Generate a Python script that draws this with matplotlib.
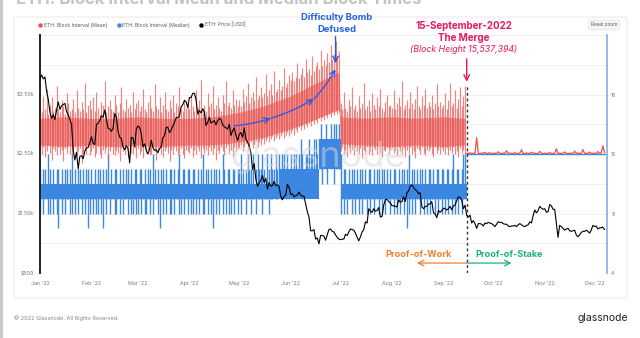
import pandas as pd
import matplotlib
matplotlib.use("Agg")
import matplotlib.pyplot as plt
import matplotlib.dates as mdates
from matplotlib.lines import Line2D
from matplotlib.patches import FancyBboxPatch, Rectangle

plt.rcParams["font.family"] = ["Inter", "DejaVu Sans"]

START = "2022-01-01"
MERGE = "2022-09-15"

# daily ETH price, Jan 1 - Dec 7 2022
price_usd = [
    # Jan
    3769, 3829, 3762, 3795, 3550, 3417, 3200, 3100, 3160, 3080, 3240, 3375, 3250, 3310, 3330, 3350,
    3210, 3160, 3080, 3000, 2560, 2400, 2530, 2250, 2460, 2470, 2420, 2550, 2600, 2610, 2690,
    # Feb
    2790, 2680, 2660, 2990, 3020, 3060, 3140, 3120, 3240, 3080, 2930, 2920, 2880, 2930,
    3180, 3120, 2880, 2780, 2760, 2620, 2570, 2640, 2590, 2350, 2780, 2770, 2620, 2920,
    # Mar
    2970, 2950, 2840, 2620, 2670, 2560, 2500, 2580, 2730, 2610, 2560, 2570, 2520, 2590, 2620, 2770,
    2810, 2950, 2950, 2860, 2900, 2970, 3030, 3110, 3110, 3140, 3290, 3330, 3400, 3380, 3280,
    # Apr
    3450, 3450, 3520, 3520, 3410, 3170, 3230, 3190, 3260, 3210, 2980, 3030, 3120, 3020, 3040,
    3060, 2990, 3060, 3100, 3080, 2990, 2960, 2940, 2920, 3000, 2810, 2890, 2940, 2820, 2730,
    # May
    2830, 2860, 2780, 2940, 2750, 2700, 2640, 2520, 2240, 2340, 2080, 1960, 2010, 2060, 2140, 2020,
    2090, 1910, 2020, 1960, 1970, 2040, 1970, 1980, 1950, 1790, 1730, 1790, 1810, 1990, 1940,
    # Jun
    1820, 1830, 1780, 1800, 1810, 1860, 1810, 1790, 1790, 1660, 1530, 1440, 1210, 1210, 1230,
    1070, 1090, 990, 1130, 1130, 1120, 1050, 1140, 1230, 1240, 1200, 1190, 1140, 1100, 1070,
    # Jul
    1060, 1070, 1070, 1150, 1130, 1190, 1240, 1230, 1220, 1170, 1100, 1040, 1110, 1190, 1230, 1360,
    1340, 1580, 1540, 1520, 1580, 1540, 1550, 1600, 1440, 1450, 1640, 1730, 1740, 1700, 1680,
    # Aug
    1630, 1630, 1620, 1610, 1730, 1690, 1700, 1780, 1700, 1850, 1880, 1960, 1980, 1940, 1900, 1880,
    1830, 1850, 1610, 1580, 1620, 1620, 1660, 1660, 1700, 1510, 1490, 1430, 1550, 1520, 1550,
    # Sep
    1590, 1580, 1560, 1580, 1620, 1560, 1630, 1640, 1720, 1780, 1770, 1720, 1580, 1640, 1470,
    1440, 1470, 1340, 1380, 1330, 1250, 1330, 1330, 1320, 1290, 1340, 1330, 1350, 1340, 1330,
    # Oct
    1310, 1280, 1320, 1360, 1350, 1350, 1330, 1320, 1320, 1290, 1280, 1290, 1290, 1300, 1280, 1310,
    1330, 1310, 1290, 1280, 1300, 1310, 1360, 1340, 1460, 1560, 1510, 1550, 1620, 1590, 1570,
    # Nov
    1580, 1520, 1530, 1650, 1630, 1570, 1570, 1330, 1100, 1300, 1280, 1250, 1220, 1240, 1250,
    1210, 1200, 1210, 1220, 1140, 1110, 1140, 1180, 1200, 1200, 1220, 1200, 1170, 1220, 1300,
    # Dec
    1280, 1290, 1240, 1260, 1260, 1270, 1230,
]

# mean block interval [s], daily high / low of the hourly series, Jan 1 - Sep 14
mean_hi = [
    15.2, 14.8, 15.9, 15.0, 16.4, 14.7, 15.3, 15.8, 14.9, 15.1, 16.6, 15.0, 14.8, 15.6, 15.2, 14.7,
    16.1, 15.4, 14.9, 15.0, 15.7, 14.8, 16.3, 15.1, 14.9, 15.5, 15.0, 16.8, 14.8, 15.3, 15.6,
    15.0, 15.8, 14.9, 16.2, 15.1, 14.7, 15.5, 15.3, 16.9, 14.8, 15.2, 15.6, 15.0, 14.9,
    16.0, 15.3, 14.8, 15.4, 16.5, 15.0, 14.9, 15.7, 15.1, 15.3, 14.8, 16.2, 15.0, 15.4,
    15.6, 14.9, 15.2, 16.4, 15.0, 14.8, 15.5, 16.0, 15.1, 14.9, 16.7, 15.2, 15.0, 15.8, 14.8, 15.3,
    16.2, 15.0, 14.9, 15.6, 15.1, 16.0, 14.8, 15.4, 15.2, 16.5, 15.0, 14.9, 15.7, 15.1, 15.3,
    15.0, 15.9, 15.2, 14.9, 16.3, 15.1, 15.6, 17.0, 15.0, 15.3, 14.9, 16.1, 15.2, 15.4, 16.6,
    15.0, 15.3, 15.8, 15.1, 14.9, 16.0, 15.4, 16.9, 15.2, 15.5, 15.1, 16.3, 15.3, 15.7, 15.2,
    15.6, 15.2, 16.4, 15.5, 15.9, 16.8, 15.4, 15.8, 16.2, 15.6, 17.2, 15.7, 16.0, 16.5, 15.8, 16.1,
    17.4, 15.9, 16.3, 16.7, 16.0, 17.6, 16.2, 16.4, 17.0, 16.3, 16.6, 17.8, 16.5, 16.8, 17.3,
    17.0, 17.5, 16.9, 17.2, 18.1, 17.1, 17.4, 17.8, 17.2, 18.4, 17.5, 17.7, 17.3, 18.6, 17.6,
    17.9, 18.2, 17.7, 19.0, 17.9, 18.3, 18.0, 18.8, 18.2, 19.3, 18.4, 18.7, 19.6, 18.6, 18.9,
    15.4, 15.0, 16.2, 15.1, 14.9, 15.7, 15.2, 16.5, 15.0, 15.3, 14.9, 15.9, 15.1, 15.4, 16.8, 15.0,
    15.2, 15.6, 14.9, 16.1, 15.3, 15.0, 15.8, 15.2, 16.4, 15.1, 14.9, 15.5, 16.0, 15.2, 15.3,
    15.1, 16.3, 15.0, 15.4, 15.8, 15.2, 16.9, 15.0, 15.3, 15.6, 15.1, 16.2, 15.4, 15.0, 15.7, 16.6,
    15.2, 15.0, 15.9, 15.3, 16.4, 15.1, 15.5, 15.2, 16.0, 15.0, 15.4, 16.7, 15.2, 15.5, 15.1,
    15.3, 16.1, 15.0, 15.6, 16.8, 15.2, 15.4, 16.3, 15.1, 15.7, 16.5, 15.2, 15.9, 16.6,
]
mean_lo = [
    12.3, 12.0, 12.5, 11.8, 12.2, 12.6, 12.1, 11.6, 12.4, 12.2, 11.9, 12.5, 12.0, 12.3, 11.5, 12.4,
    12.1, 12.6, 12.0, 11.8, 12.3, 12.5, 11.9, 12.2, 12.4, 11.4, 12.1, 12.3, 12.0, 12.5, 11.9,
    12.2, 12.4, 11.8, 12.1, 12.5, 12.0, 11.7, 12.3, 12.1, 12.4, 11.6, 12.2, 12.5, 12.0,
    11.9, 12.3, 12.1, 11.5, 12.4, 12.2, 12.0, 12.5, 11.8, 12.3, 12.1, 12.0, 12.4, 11.7,
    12.4, 12.0, 12.2, 11.7, 12.5, 12.1, 12.3, 11.9, 12.0, 12.4, 12.2, 11.6, 12.3, 12.5, 12.0, 11.8,
    12.2, 12.4, 12.1, 11.5, 12.3, 12.0, 12.5, 12.2, 11.9, 12.1, 12.4, 12.0, 11.7, 12.3, 12.2,
    12.1, 12.4, 11.8, 12.3, 12.0, 12.5, 12.2, 11.7, 12.4, 12.1, 12.3, 11.9, 12.5, 12.2, 12.0,
    12.4, 11.6, 12.3, 12.1, 12.5, 12.2, 11.9, 12.4, 12.6, 12.1, 12.3, 11.8, 12.5, 12.2, 12.4,
    12.4, 12.6, 12.2, 12.5, 12.7, 12.3, 12.6, 12.8, 12.4, 12.7, 12.9, 12.5, 12.8, 12.6, 13.0, 12.7,
    12.9, 13.1, 12.8, 13.0, 13.2, 12.9, 13.1, 13.3, 13.0, 13.2, 13.4, 13.1, 13.3, 13.5, 13.2,
    13.4, 13.6, 13.3, 13.7, 13.5, 13.8, 13.6, 13.9, 13.7, 14.0, 13.8, 14.1, 13.9, 14.2, 14.0,
    14.3, 14.1, 14.4, 14.2, 14.5, 14.3, 14.6, 14.4, 14.7, 14.5, 14.8, 14.6, 14.9, 14.7, 14.8,
    12.2, 12.5, 12.0, 12.3, 11.8, 12.4, 12.1, 12.3, 11.9, 12.5, 12.2, 12.0, 12.4, 11.7, 12.3, 12.1,
    12.5, 12.0, 12.2, 11.9, 12.4, 12.3, 12.0, 12.5, 12.1, 11.8, 12.3, 12.2, 12.4, 12.0, 12.3,
    12.4, 12.1, 12.3, 11.9, 12.5, 12.2, 12.0, 12.4, 11.8, 12.3, 12.1, 12.5, 12.0, 12.2, 11.7, 12.4,
    12.3, 12.0, 12.5, 12.1, 11.9, 12.3, 12.2, 12.4, 12.0, 11.8, 12.5, 12.1, 12.3, 12.0, 12.4,
    12.2, 12.0, 12.4, 11.9, 12.3, 12.1, 12.5, 12.0, 12.2, 11.8, 12.4, 12.1, 12.3, 12.0,
]

# dense core of the mean band
core_dates = ["2022-01-01", "2022-01-15", "2022-02-01", "2022-02-15", "2022-03-01", "2022-03-15",
              "2022-04-01", "2022-04-15", "2022-05-01", "2022-05-15", "2022-06-01", "2022-06-15",
              "2022-06-30", "2022-07-01", "2022-07-15", "2022-08-01", "2022-08-15", "2022-09-01",
              "2022-09-14"]
core_lo = [12.6, 12.5, 12.6, 12.5, 12.6, 12.5, 12.6, 12.6, 12.8, 13.1, 13.7, 14.3, 15.0,
           12.7, 12.6, 12.5, 12.6, 12.5, 12.6]
core_hi = [14.4, 14.5, 14.4, 14.4, 14.5, 14.4, 14.4, 14.5, 14.8, 15.2, 15.9, 16.7, 17.5,
           14.5, 14.4, 14.5, 14.4, 14.5, 14.4]

# mean block interval [s], proof-of-stake period Sep 15 - Dec 7
mean_pos = [
    12.05, 12.03, 12.08, 12.04, 12.06, 12.03, 13.10, 12.05, 12.02, 12.07, 12.04, 12.12, 12.03, 12.05,
    12.09, 12.03,
    12.04, 12.06, 12.03, 12.15, 12.05, 12.02, 12.07, 12.04, 12.22, 12.03, 12.06, 12.05, 12.03, 12.09,
    12.04, 12.02, 12.06, 12.28, 12.04, 12.03, 12.07, 12.05, 12.03, 12.12, 12.04, 12.06, 12.02, 12.05,
    12.18, 12.04, 12.03,
    12.06, 12.04, 12.03, 12.10, 12.05, 12.03, 12.07, 12.35, 12.04, 12.06, 12.03, 12.05, 12.14, 12.04,
    12.02, 12.06, 12.05, 12.03, 12.20, 12.04, 12.07, 12.03, 12.05, 12.30, 12.04, 12.06, 12.03, 12.12,
    12.05, 12.04,
    12.06, 12.03, 12.16, 12.04, 12.07, 12.55, 12.10,
]

# median block interval [s], daily high / low, Jan 1 - Sep 14
median_hi = [
    11, 10, 11, 11, 10, 12, 11, 10, 11, 10, 11, 11, 10, 11, 10, 11, 11, 10, 11, 12, 10, 11, 10, 11,
    11, 10, 11, 10, 11, 11, 10,
    11, 10, 11, 10, 11, 11, 10, 11, 10, 11, 12, 10, 11, 10, 11, 11, 10, 11, 10, 11, 10, 11, 11, 10,
    11, 10, 11, 11,
    10, 11, 11, 10, 11, 10, 11, 11, 10, 12, 11, 10, 11, 10, 11, 11, 10, 11, 10, 11, 11, 10, 11, 10,
    11, 12, 10, 11, 11, 10, 11,
    11, 10, 11, 11, 10, 11, 10, 11, 12, 10, 11, 11, 10, 11, 10, 11, 11, 10, 11, 10, 12, 11, 10, 11,
    11, 10, 11, 11, 10, 11,
    11, 12, 11, 10, 11, 12, 11, 11, 12, 10, 11, 12, 11, 11, 12, 11, 10, 12, 11, 12, 11, 11, 12, 11,
    12, 11, 12, 12, 11, 12, 11,
    12, 11, 12, 12, 11, 12, 13, 12, 11, 12, 12, 13, 12, 12, 13, 13, 12, 13, 14, 13, 13, 14, 13, 13,
    14, 13, 14, 14, 13, 14,
    12, 10, 11, 11, 10, 11, 10, 11, 11, 10, 11, 10, 11, 11, 10, 11, 10, 11, 11, 10, 11, 10, 11, 11,
    10, 11, 11, 10, 11, 10, 11,
    10, 11, 11, 10, 11, 10, 11, 11, 10, 11, 12, 10, 11, 11, 10, 11, 10, 11, 11, 10, 11, 10, 11, 11,
    10, 11, 10, 11, 11, 10, 11,
    11, 10, 11, 11, 10, 11, 12, 10, 11, 11, 10, 11, 12, 12,
]
median_lo = [
    8, 9, 8, 9, 9, 8, 8, 9, 8, 9, 8, 7, 9, 8, 9, 8, 9, 9, 8, 8, 9, 8, 9, 8, 9, 8, 9, 8, 9, 7, 8,
    9, 8, 9, 8, 8, 9, 8, 7, 9, 8, 9, 8, 9, 9, 8, 8, 9, 8, 9, 8, 9, 9, 8, 9, 8, 8, 9, 8,
    8, 9, 8, 9, 8, 8, 9, 8, 9, 8, 9, 9, 8, 7, 9, 8, 9, 8, 9, 8, 8, 9, 8, 9, 9, 8, 8, 9, 8, 9, 8,
    9, 8, 8, 9, 8, 9, 8, 9, 8, 8, 9, 8, 9, 8, 7, 9, 8, 9, 8, 9, 8, 9, 8, 9, 8, 8, 9, 8, 9, 8,
    9, 8, 9, 9, 8, 9, 9, 8, 9, 9, 8, 9, 9, 9, 8, 9, 9, 9, 8, 9, 9, 10, 9, 9, 10, 9, 9, 10, 9, 10, 9,
    10, 10, 9, 10, 10, 10, 10, 9, 10, 10, 11, 10, 10, 11, 11, 11, 10, 12, 11, 10, 12, 11, 10, 12,
    11, 12, 10, 11, 12, 11,
    8, 9, 8, 9, 8, 9, 9, 8, 9, 8, 9, 8, 9, 8, 9, 9, 8, 9, 8, 9, 8, 9, 9, 8, 9, 8, 9, 8, 9, 9, 8,
    9, 8, 9, 8, 9, 8, 9, 8, 9, 7, 8, 9, 8, 9, 8, 9, 9, 8, 9, 8, 9, 8, 9, 8, 9, 9, 8, 9, 8, 9, 8,
    9, 8, 9, 8, 9, 8, 9, 8, 9, 8, 9, 8, 9, 9,
]
# solid core of the median band (where the value flips every hour)
median_core_dates = ["2022-01-01", "2022-05-25", "2022-06-18", "2022-07-01", "2022-09-15"]
median_core_lo = [9, 9, 11, 9, 9]
median_core_hi = [10, 11, 13, 10, 10]

# median block interval [s], proof-of-stake period Sep 15 - Dec 7
median_pos = [
    12, 12, 12, 12, 12, 12, 12, 12, 12, 12, 12, 12, 12, 12, 12, 12,
    12, 12, 12, 12, 12, 12, 12, 12, 12, 12, 12, 12, 12, 12, 12, 12, 12, 12, 12, 12,
    12, 12, 12, 12, 12, 12, 12, 12, 12, 12, 12,
    12, 12, 12, 12, 12, 12, 12, 12, 12, 12, 12, 12, 12, 12, 12, 12, 12, 12, 12, 12,
    12, 12, 12, 12, 12, 12, 12, 12, 12, 12,
    12, 12, 12, 12, 12, 12, 12,
]

price_ticks = [500, 1500, 2500, 3500]
price_labels = ["$500", "$1.50k", "$2.50k", "$3.50k"]
interval_grid = [4, 6, 8, 10, 12, 14, 16, 18, 20]
interval_labels = ["4", "", "8", "", "12", "", "16", "", ""]

price_days = pd.date_range(START, periods=len(price_usd), freq="D")
pow_days = pd.date_range(START, periods=len(mean_hi), freq="D")
med_days = pd.date_range(START, periods=len(median_hi), freq="D")
pos_days = pd.date_range(MERGE, periods=len(mean_pos), freq="D")
core_days = pd.to_datetime(core_dates)
med_core_days = pd.to_datetime(median_core_dates)
month_ticks = pd.date_range("2022-01-01", "2022-12-01", freq="MS")

W, H = 640, 338
RED = "#e8524f"
BLUE = "#3c87e1"
PINK = "#e8185e"
ARROW_BLUE = "#3458e0"
ORANGE = "#f08030"
GREEN = "#1eb07f"


def d(s):
    return mdates.date2num(pd.Timestamp(s))


fig = plt.figure(figsize=(W / 100, H / 100), dpi=100)
fig.patch.set_facecolor("white")

# page frame + panel (kept behind the axes)
fig.add_artist(Rectangle((0, 0), 2.5 / W, 1, transform=fig.transFigure,
                         facecolor="#c9c9c9", edgecolor="none", zorder=-10))
fig.add_artist(FancyBboxPatch((14 / W, 1 - 298 / H), 613 / W, 281 / H,
                              boxstyle="round,pad=0,rounding_size=0.004",
                              transform=fig.transFigure, facecolor="white",
                              edgecolor="#ececec", lw=0.8, zorder=-10))
fig.text(16 / W, 1 - 4 / H, "ETH: Block Interval Mean and Median Block Times",
         fontsize=12, weight="bold", color="#c4c4c4", va="baseline")

ax = fig.add_axes([40 / W, 1 - 273 / H, 567 / W, 238 / H])
ax2 = ax.twinx()
ax.set_zorder(ax2.get_zorder() + 1)
ax.patch.set_visible(False)

# median (blue) then mean (red) on the right scale, price on top
ax2.fill_between(med_core_days, median_core_lo, median_core_hi, step="post",
                 color=BLUE, lw=0, zorder=2)
ax2.vlines(med_days, median_lo, median_hi, colors=BLUE, lw=1.0, zorder=2)
ax2.plot(pos_days, median_pos, color=BLUE, lw=1.0, zorder=2)
ax2.fill_between(core_days, core_lo, core_hi, color=RED, alpha=0.6, lw=0, zorder=3)
ax2.vlines(pow_days, mean_lo, mean_hi, colors=RED, lw=0.85, alpha=0.7, zorder=3)
ax2.plot(pos_days, mean_pos, color=RED, lw=0.9, zorder=3)
ax.plot(price_days, price_usd, color="black", lw=0.8, zorder=4)

ax.set_xlim(pd.Timestamp("2022-01-01"), pd.Timestamp("2022-12-08 12:00"))
ax.set_ylim(500, 4500)
ax2.set_ylim(4, 20)

ax.set_yticks(price_ticks)
ax.set_yticklabels(price_labels)
ax2.set_yticks(interval_grid)
ax2.set_yticklabels(interval_labels)
ax2.grid(axis="y", color="#ececec", lw=0.6)
ax2.set_axisbelow(True)

ax.set_xticks(month_ticks)
ax.xaxis.set_major_formatter(mdates.DateFormatter("%b '%y"))

ax.tick_params(axis="y", length=0, labelsize=3.8, labelcolor="#777777", pad=4)
ax.tick_params(axis="x", length=0, labelsize=3.8, labelcolor="#777777", pad=6)
ax2.tick_params(axis="y", length=0, labelsize=3.8, labelcolor="#777777", pad=3)

for s in ["top", "right", "bottom"]:
    ax.spines[s].set_visible(False)
for s in ["top", "left", "bottom"]:
    ax2.spines[s].set_visible(False)
ax.spines["left"].set_color("#222222")
ax.spines["left"].set_linewidth(1.4)
ax2.spines["right"].set_color("#7fb0e0")
ax2.spines["right"].set_linewidth(1.2)

# watermark
fig.text(318 / W, 1 - 158 / H, "glassnode", fontsize=26, color="#d8d8d8", alpha=0.5,
         ha="center", va="center", zorder=10)

# difficulty bomb
bomb_path = [("2022-04-28", 13.9), ("2022-05-20", 14.4), ("2022-06-15", 15.7), ("2022-06-28", 17.7)]
for a, b in zip(bomb_path[:-1], bomb_path[1:]):
    ax2.annotate("", xy=(d(b[0]), b[1]), xytext=(d(a[0]), a[1]),
                 arrowprops=dict(arrowstyle="->", color=ARROW_BLUE, lw=1.0,
                                 shrinkA=0, shrinkB=0, connectionstyle="arc3,rad=0.06"),
                 zorder=6)
ax2.annotate("", xy=(d("2022-06-28"), 18.1), xytext=(d("2022-06-28"), 19.9),
             arrowprops=dict(arrowstyle="->", color=ARROW_BLUE, lw=1.0, shrinkA=0, shrinkB=0),
             annotation_clip=False, zorder=6)
fig.text(337 / W, 1 - 18 / H, "Difficulty Bomb", fontsize=6.8, weight="bold",
         color="#2563e0", ha="center", va="center")
fig.text(337 / W, 1 - 30 / H, "Defused", fontsize=6.8, weight="bold",
         color="#2563e0", ha="center", va="center")

# the merge
fig.text(464 / W, 1 - 26 / H, "15-September-2022", fontsize=7, weight="bold",
         color=PINK, ha="center", va="center")
fig.text(464 / W, 1 - 38 / H, "The Merge", fontsize=7, weight="bold",
         color=PINK, ha="center", va="center")
fig.text(464 / W, 1 - 49 / H, "(Block Height 15,537,394)", fontsize=6.3, style="italic",
         color=PINK, ha="center", va="center")
ax2.annotate("", xy=(d(MERGE), 16.85), xytext=(d(MERGE), 18.4),
             arrowprops=dict(arrowstyle="->", color=PINK, lw=1.0, shrinkA=0, shrinkB=0),
             zorder=6)
ax2.vlines(d(MERGE), 4, 16.7, colors="#333333", linestyles=(0, (2, 2)), lw=1.0, zorder=5)

# pow / pos
ax2.text(d("2022-09-06"), 5.25, "Proof-of-Work", fontsize=6.5, weight="bold",
         color=ORANGE, ha="right", va="center", zorder=6)
ax2.text(d("2022-09-20"), 5.25, "Proof-of-Stake", fontsize=6.5, weight="bold",
         color=GREEN, ha="left", va="center", zorder=6)
ax2.annotate("", xy=(d("2022-08-16"), 4.67), xytext=(d(MERGE), 4.67),
             arrowprops=dict(arrowstyle="->", color=ORANGE, lw=0.9, shrinkA=0, shrinkB=0),
             zorder=6)
ax2.annotate("", xy=(d("2022-10-12"), 4.67), xytext=(d(MERGE), 4.67),
             arrowprops=dict(arrowstyle="->", color=GREEN, lw=0.9, shrinkA=0, shrinkB=0),
             zorder=6)

# legend
handles = [Line2D([], [], ls="", marker="o", ms=2.2, color=c) for c in [RED, BLUE, "black"]]
labels = ["ETH: Block Interval (Mean)", "ETH: Block Interval (Median)", "ETH: Price [USD]"]
fig.legend(handles, labels, loc="center left", bbox_to_anchor=(34 / W, 1 - 25 / H),
           ncol=3, frameon=False, fontsize=3.6, handlelength=0.6, handletextpad=0.4,
           columnspacing=2.0, labelcolor="#555555")

# reset zoom button
fig.text(604 / W, 1 - 25 / H, "Reset zoom", fontsize=3.4, color="#555555", ha="center", va="center",
         bbox=dict(boxstyle="round,pad=0.5,rounding_size=0.3", fc="#f6f6f6", ec="#e2e2e2", lw=0.5))

# footer
fig.text(14 / W, 1 - 318 / H, "\u00a9 2022 Glassnode. All Rights Reserved.", fontsize=4.0,
         color="#888888", ha="left", va="center")
fig.text(628 / W, 1 - 318 / H, "glassnode", fontsize=7.5, color="#222222", ha="right", va="center")

fig.savefig("out.png", dpi=100)
